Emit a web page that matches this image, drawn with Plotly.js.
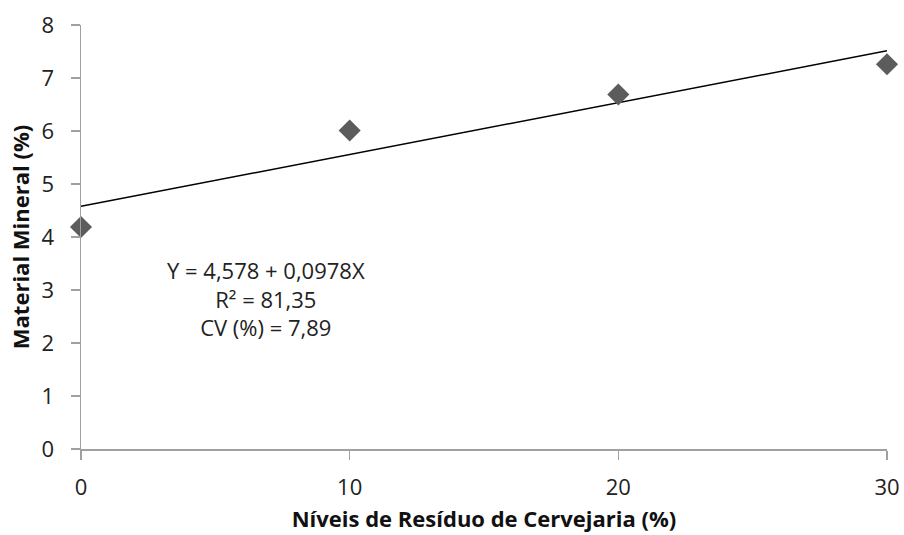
<!DOCTYPE html>
<html><head><meta charset="utf-8">
<script src="https://cdn.plot.ly/plotly-3.0.1.min.js"></script>
<style>body{margin:0;background:#fff}#c{width:904px;height:535px}</style>
</head><body><div id="c"></div>
<script>
const niveis = [0, 10, 20, 30];
const materialMineral = [4.19, 6.01, 6.69, 7.26];
const intercept = 4.578;
const slope = 0.0978;
const xTicks = [0, 10, 20, 30];
const yTicks = [0, 1, 2, 3, 4, 5, 6, 7, 8];
const fitX = [0, 30];
const fitY = fitX.map(x => intercept + slope * x);
const font = "Open Sans, Noto Sans, sans-serif";
const traces = [
  {x: fitX, y: fitY, mode: 'lines', line: {color: '#000', width: 1.5}, hoverinfo: 'skip', cliponaxis: false},
  {x: niveis, y: materialMineral, mode: 'markers', marker: {symbol: 'diamond', size: 17, color: '#5c5c5c'}, cliponaxis: false}
];
const layout = {
  width: 904, height: 535,
  margin: {l: 81, r: 17, t: 25, b: 86},
  showlegend: false,
  paper_bgcolor: '#fff', plot_bgcolor: '#fff',
  font: {family: font, color: '#333', size: 22},
  xaxis: {range: [0, 30], tickvals: xTicks, showgrid: false, zeroline: false,
    showline: true, linecolor: '#a0a0a0', linewidth: 1.5, ticks: 'outside', ticklen: 9, tickcolor: '#a0a0a0', tickwidth: 1.5,
    ticklabelstandoff: 9,
    tickfont: {size: 22, color: '#222'},
    title: {text: 'Níveis de Resíduo de Cervejaria (%)', font: {size: 22, color: '#111', weight: 'bold'}, standoff: 11}},
  yaxis: {range: [0, 8], tickvals: yTicks, showgrid: false, zeroline: false,
    showline: true, linecolor: '#a0a0a0', linewidth: 1.5, ticks: 'outside', ticklen: 9, tickcolor: '#a0a0a0', tickwidth: 1.5,
    ticklabelstandoff: 12,
    tickfont: {size: 22, color: '#222'},
    title: {text: 'Material Mineral (%)', font: {size: 22, color: '#111', weight: 'bold'}, standoff: 6}},
  annotations: [
    {xref: 'paper', yref: 'paper', x: (266-81)/806, y: (449-298)/424, xanchor: 'center', yanchor: 'middle', showarrow: false, align: 'center',
     text: 'Y = 4,578 + 0,0978X<br>R² = 81,35<br>CV (%) = 7,89', font: {size: 22, color: '#222', family: font}}
  ]
};
Plotly.newPlot('c', traces, layout, {displayModeBar: false, staticPlot: true});
</script></body></html>
